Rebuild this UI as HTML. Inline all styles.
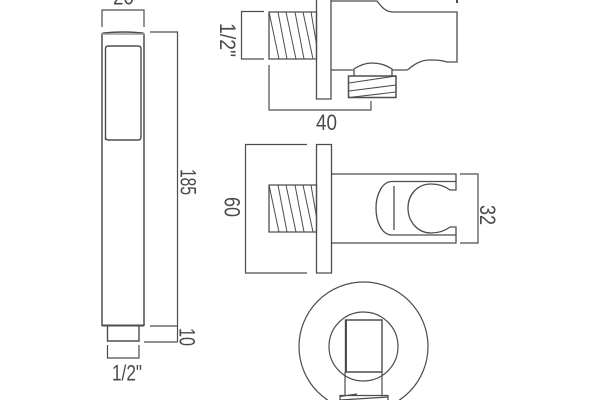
<!DOCTYPE html>
<html><head><meta charset="utf-8"><style>
html,body{margin:0;padding:0;background:#fff;width:600px;height:400px;overflow:hidden}
svg{display:block}
text{font-family:"Liberation Sans",sans-serif;font-size:22px;fill:#4a4a4a}
</style></head><body>
<svg width="600" height="400" viewBox="0 0 600 400" fill="none" stroke="#4d4d4d" stroke-width="1.2">
<!-- hand shower -->
<g stroke-width="1.4">
<path d="M102 326V35Q102 33 104 33Q123 31 142 33Q144 33 144 35V326" stroke-width="1.5"/>
<path d="M102 34H144" stroke="#999"/>
<path d="M102 325.5H144" stroke-width="2"/>
<path d="M105.500 140V49Q105.500 46 108.500 46H138Q141 46 141 49V137Q141 140 138 140H108.500Q105.500 140 105.500 137Z"/>
<path d="M107.500 326V341H139V326"/>
</g>
<path d="M102 27V10H144V27"/>
<path d="M150 32H177.500V342M150 326H177.500M144 342H177.500"/>
<path d="M107.500 345V358H139V345"/>
<!-- side view -->
<g stroke-width="1.3">
<path d="M269 12H316.500V59H269Z"/>
<path d="M269 12L279 59M278 12L287 59M286 12L296 59M295 12L304 59M303 12L313 59M311 12L316.500 44" stroke-width="1"/>
<path d="M316.500 0V99H331V0"/>
<path d="M331 1H377C381 6 385 12 393 12H457V62H447C441 60 436 60 430 60C420 60 414 65 411 67C409 69 408 70 406 70H392M353 70H331"/>
<path d="M354 76V69C360 65 366 63 372 63C379 63 386 65 392 69V76"/>
<path d="M348.500 76H396V97.500H348.500Z" stroke-width="1.5"/>
<path d="M349 83L396 76M349 91L396 85M349 97.500L396 92" stroke-width="1.1"/>
</g>
<path d="M457 0V3" stroke-width="2"/>
<path d="M264 11.500H241.500V59H264"/>
<path d="M269 65V110H371V101"/>
<!-- front view -->
<g stroke-width="1.3">
<path d="M269 185H316.500V232H269Z"/>
<path d="M269 185L279 232M278 185L287 232M286 185L296 232M295 185L304 232M303 185L313 232M311 185L316.500 217" stroke-width="1"/>
<path d="M316.500 144.500H331.500V273H316.500Z"/>
<path d="M331.500 174H456V190H450C446 187 440 184 431 184C417 184 408 195 408 208C408 222 418 233 431 233C440 233 446 230 450 227H456V243H331.500"/>
<path d="M456 181.500H392C382 181.500 376 195 376 208C376 222 382 235 392 235H456"/>
<path d="M394 186V230"/>
</g>
<path d="M307 144.500H245.500V273H307"/>
<path d="M460 174H478V243H460"/>
<!-- bottom view -->
<g stroke-width="1.2">
<circle cx="363.500" cy="346.500" r="64.500"/>
<circle cx="363.500" cy="346.500" r="34.500"/>
<path d="M345.500 320H382V372H345.500Z" stroke-width="1.400"/>
<path d="M346 320V372" stroke-width="2"/>
<path d="M345 372V395M382 372V395"/>
<path d="M340 400V395.500H388V400M340 396.500L357 394M340 400L388 397" stroke-width="1.300"/>
</g>
<!-- labels -->
<g stroke="none">
<text x="113" y="4.500" textLength="21" lengthAdjust="spacingAndGlyphs">20</text>
<text transform="translate(180.500,169) rotate(90)" textLength="26" lengthAdjust="spacingAndGlyphs">185</text>
<text transform="translate(179.500,328) rotate(90)" textLength="18" lengthAdjust="spacingAndGlyphs">10</text>
<text x="112" y="380.500" textLength="30" lengthAdjust="spacingAndGlyphs">1/2&quot;</text>
<text transform="translate(220,23) rotate(90)" textLength="34" lengthAdjust="spacingAndGlyphs">1/2&quot;</text>
<text x="316" y="130" textLength="21" lengthAdjust="spacingAndGlyphs">40</text>
<text transform="translate(224.500,197) rotate(90)" textLength="20" lengthAdjust="spacingAndGlyphs">60</text>
<text transform="translate(480,205) rotate(90)" textLength="20" lengthAdjust="spacingAndGlyphs">32</text>
</g>
</svg>
</body></html>
